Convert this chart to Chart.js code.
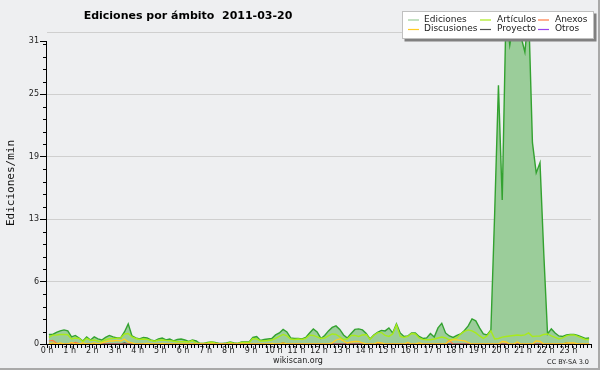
<!DOCTYPE html>
<html><head><meta charset="utf-8">
<script src="https://cdn.jsdelivr.net/npm/chart.js@4.4.1/dist/chart.umd.min.js"></script>
<style>html,body{margin:0;padding:0;background:#eeeff1;} canvas{display:block;}</style>
</head><body>
<canvas id="c" width="600" height="370"></canvas>
<script>
// ---------- text ----------
const chartTitle = 'Ediciones por ámbito  2011-03-20';
const yAxisTitle = 'Ediciones/min';
const siteLabel = 'wikiscan.org';
const licenseLabel = 'CC BY-SA 3.0';

// ---------- categories / ticks ----------
const hourLabels = ['0 h','1 h','2 h','3 h','4 h','5 h','6 h','7 h','8 h','9 h','10 h','11 h',
  '12 h','13 h','14 h','15 h','16 h','17 h','18 h','19 h','20 h','21 h','22 h','23 h'];
const slotMinutes = 10;           // one value per 10-minute slot, 144 slots
const yTickValues = [0, 6.2, 12.4, 18.6, 24.8, 30.1, 31];
const yTickLabels = ['0', '6', '13', '19', '25', '31', ''];
const yMax = 31;

// ---------- series (edits per minute, per 10-min slot) ----------
const ediciones = [
  0.95,0.95,1.15,1.3,1.4,1.3,0.7,0.85,0.6,0.3,
  0.7,0.4,0.7,0.5,0.4,0.65,0.85,0.7,0.6,0.6,
  1.2,2.0,0.8,0.6,0.5,0.65,0.6,0.4,0.3,0.5,
  0.6,0.4,0.5,0.3,0.45,0.5,0.4,0.25,0.4,0.3,
  0.05,0.05,0.15,0.2,0.15,0.05,0.05,0.1,0.2,0.1,
  0.05,0.2,0.2,0.2,0.65,0.75,0.35,0.45,0.5,0.55,
  0.9,1.1,1.45,1.2,0.6,0.55,0.55,0.5,0.65,1.1,
  1.5,1.2,0.55,0.85,1.3,1.65,1.8,1.45,0.9,0.6,
  1.05,1.45,1.5,1.4,1.05,0.5,0.9,1.15,1.35,1.3,
  1.6,1.1,2.0,1.1,0.75,0.8,1.1,1.1,0.75,0.55,
  0.6,1.05,0.7,1.6,2.05,1.1,0.8,0.65,0.85,1.0,
  1.35,1.8,2.5,2.3,1.6,1.0,0.9,1.4,13,25.7,
  14.3,33,29.7,32,33,30.5,29,33,20,17,
  18,9,1.0,1.5,1.1,0.8,0.75,0.9,0.95,0.95,
  0.85,0.7,0.55,0.6
];
const articulos = [
  0.66,0.88,0.9,0.94,0.96,0.92,0.5,0.6,0.55,0.25,
  0.56,0.35,0.4,0.3,0.23,0.42,0.52,0.56,0.56,0.6,
  1.0,1.05,0.7,0.55,0.45,0.5,0.46,0.35,0.28,0.37,
  0.4,0.36,0.33,0.28,0.23,0.23,0.23,0.2,0.35,0.08,
  0.05,0.05,0.1,0.2,0.1,0.03,0.03,0.05,0.15,0.05,
  0.05,0.15,0.15,0.15,0.55,0.5,0.3,0.3,0.35,0.4,
  0.55,0.75,0.95,0.8,0.5,0.45,0.5,0.45,0.56,0.88,
  0.85,0.7,0.55,0.6,0.8,1.0,0.95,0.7,0.45,0.5,
  0.85,0.85,0.75,0.9,0.95,0.45,0.85,1.1,1.15,0.85,
  0.75,1.0,1.9,0.75,0.65,0.75,1.05,1.0,0.6,0.46,
  0.42,0.42,0.5,0.6,0.7,0.6,0.42,0.48,0.6,1.0,
  1.25,1.4,1.3,1.1,0.8,0.56,0.8,1.3,0.5,0.55,
  0.68,0.75,0.8,0.85,0.9,0.85,0.9,1.1,0.75,0.78,
  0.8,0.95,1.0,0.8,0.65,0.5,0.6,0.8,0.9,0.9,
  0.75,0.6,0.45,0.45
];
const anexos = [
  0.3,0.35,0.1,0,0,0,0,0.15,0.05,0,
  0,0,0,0,0,0,0,0,0,0,
  0,0,0,0,0,0,0,0,0,0,
  0,0,0,0,0,0,0,0,0,0,
  0,0,0,0,0,0,0,0,0,0,
  0,0,0,0,0,0,0,0,0,0,
  0,0,0,0,0,0,0,0,0,0,
  0,0,0,0,0,0,0,0,0,0,
  0,0,0,0,0,0,0,0,0,0,
  0,0,0,0,0,0,0,0,0,0,
  0,0,0,0,0,0,0.35,0,0,0,
  0,0,0,0,0,0,0,0,0,0,
  0,0,0,0,0,0,0,0,0,0,
  0,0,0,0,0,0,0,0,0,0,
  0,0,0,0
];
const discusiones = [
  0,0.1,0,0.1,0,0,0.15,0,0,0.1,
  0,0,0.1,0,0.1,0.2,0.3,0.3,0.35,0.3,
  0.5,0.2,0.1,0,0,0,0.05,0,0,0,
  0.05,0,0,0,0,0,0,0,0,0,
  0,0,0,0,0,0,0,0,0,0,
  0,0,0,0,0,0,0,0,0,0.05,
  0,0,0.1,0,0,0,0,0,0,0,
  0,0,0,0,0,0.1,0.4,0.5,0.3,0.1,
  0.2,0.25,0.25,0.1,0,0,0,0.15,0.1,0,
  0,0,0,0,0,0.15,0,0,0.1,0,
  0,0,0,0,0,0,0.3,0.4,0.4,0.35,
  0.3,0.15,0,0,0,0,0,0,0,0,
  0.25,0.2,0,0,0.2,0,0,0,0,0.3,
  0.25,0,0,0,0,0,0,0.1,0.1,0.1,
  0,0,0,0
];
const proyecto = [
  0,0,0,0,0,0,0,0,0,0,
  0,0,0,0,0,0,0,0,0,0,
  0.1,0,0,0,0,0,0,0,0,0,
  0,0,0,0,0,0,0,0,0,0,
  0,0,0,0,0,0,0,0,0,0,
  0,0,0,0,0,0,0,0,0,0,
  0,0,0.1,0,0,0,0,0,0,0,
  0,0,0,0,0,0,0,0,0,0,
  0,0,0,0,0,0,0,0.05,0,0,
  0,0,0,0,0,0,0,0,0,0,
  0,0,0,0,0,0,0,0,0,0,
  0,0,0,0,0,0,0,0,0,0,
  0,0,0,0,0,0,0,0,0,0,
  0,0,0,0,0,0,0,0.1,0,0,
  0,0,0,0
];
const otros = [
  0,0,0,0,0,0,0,0,0,0,
  0,0,0,0,0,0,0,0,0,0,
  0,0,0,0,0,0,0,0,0,0,
  0,0,0,0,0,0,0,0,0,0,
  0,0,0,0,0,0,0,0,0,0,
  0,0,0,0,0,0,0,0,0,0,
  0,0,0,0,0,0,0,0,0,0,
  0,0,0,0,0,0,0,0,0,0,
  0,0,0,0,0,0,0,0,0,0,
  0,0,0,0,0,0,0,0,0,0,
  0,0,0,0,0,0,0,0,0,0,
  0,0,0,0,0,0,0,0,0,0,
  0,0,0,0,0,0,0,0,0,0,
  0,0,0,0,0,0,0,0,0,0,
  0,0,0,0
];

// ---------- build datasets ----------
const toPoints = arr => arr.map((v, i) => ({ x: i * slotMinutes + slotMinutes / 2, y: v }));
const seriesDefs = [
  { label: 'Ediciones',   data: ediciones,   color: '#33a230', fillColor: '#9bcd9a', fill: 'origin', order: 10, width: 1.4 },
  { label: 'Artículos',   data: articulos,   color: '#a8ea1c', order: 5, width: 1.4 },
  { label: 'Anexos',      data: anexos,      color: '#ff7a45', order: 2, width: 1.2 },
  { label: 'Discusiones', data: discusiones, color: '#ffcc22', order: 1, width: 1.3 },
  { label: 'Proyecto',    data: proyecto,    color: '#505050', order: 3, width: 1.2 },
  { label: 'Otros',       data: otros,       color: '#9944ee', order: 4, width: 1.2 }
];
const datasets = seriesDefs.map(s => ({
  label: s.label,
  data: toPoints(s.data),
  borderColor: s.color,
  backgroundColor: s.fillColor || s.color,
  fill: s.fill || false,
  order: s.order,
  borderWidth: s.width,
  pointRadius: 0,
  tension: 0
}));

const FONT = "'DejaVu Sans', sans-serif";

const decorPlugin = {
  id: 'decor',
  beforeDraw(chart) {
    const c = chart.ctx;
    c.save();
    c.fillStyle = '#eeeff1';
    c.fillRect(0, 0, chart.width, chart.height);
    c.fillStyle = '#a9a9a9';
    c.fillRect(0, chart.height - 2, chart.width, 2);
    c.fillRect(chart.width - 2, 0, 2, chart.height);
    c.restore();
  },
  afterDraw(chart) {
    const c = chart.ctx;
    const xs = chart.scales.x, ys = chart.scales.y, ca = chart.chartArea;
    c.save();
    // y axis line (from the top labelled tick down to 0)
    c.strokeStyle = '#000';
    c.lineWidth = 1;
    c.beginPath();
    const axX = Math.round(ca.left) - 0.5;
    c.moveTo(axX, Math.round(ys.getPixelForValue(yTickValues[5])) + 0.5);
    c.lineTo(axX, ca.bottom + 0.5);
    c.stroke();
    // minor ticks
    c.beginPath();
    for (let m = 0; m <= 24 * 60; m += slotMinutes) {
      const px = Math.round(xs.getPixelForValue(m)) + 0.5;
      c.moveTo(px, ca.bottom);
      c.lineTo(px, ca.bottom + 4);
    }
    for (let k = 1; k < 25; k++) {
      if (k % 5 === 0) continue;
      const py = Math.round(ys.getPixelForValue(k * yMax / 25)) + 0.5;
      c.moveTo(ca.left - 4, py);
      c.lineTo(ca.left, py);
    }
    c.stroke();

    // title
    c.fillStyle = '#000';
    c.font = "bold 11px " + FONT;
    c.textAlign = 'center';
    c.textBaseline = 'alphabetic';
    c.fillText(chartTitle, 188, 18.5);

    // y title
    c.save();
    c.translate(14, 183);
    c.rotate(-Math.PI / 2);
    c.font = "11px 'DejaVu Sans Mono', monospace";
    c.textAlign = 'center';
    c.textBaseline = 'alphabetic';
    c.fillStyle = '#111';
    c.fillText(yAxisTitle, 0, 0);
    c.restore();

    // footer
    c.font = "8px " + FONT;
    c.fillStyle = '#222';
    c.textAlign = 'center';
    c.textBaseline = 'middle';
    c.fillText(siteLabel, 298, 361);
    c.font = "6.5px " + FONT;
    c.textAlign = 'right';
    c.fillText(licenseLabel, 589, 362);

    // legend
    const bx = 402, by = 11, bw = 192, bh = 28;
    c.fillStyle = '#808080';
    c.fillRect(bx + 2.5, by + 2.5, bw, bh);
    c.fillStyle = '#ffffff';
    c.fillRect(bx, by, bw, bh);
    c.strokeStyle = '#c0c0c0';
    c.lineWidth = 1;
    c.strokeRect(bx + 0.5, by + 0.5, bw - 1, bh - 1);
    const lineX = [408, 480, 538], textX = [424, 497, 555], rowY = [19.5, 29];
    c.font = "9px " + FONT;
    c.textAlign = 'left';
    c.textBaseline = 'middle';
    chart.data.datasets.forEach((ds, k) => {
      const col = k % 3, row = Math.floor(k / 3);
      c.strokeStyle = ds.fill ? ds.backgroundColor : ds.borderColor;
      c.lineWidth = 1.2;
      c.beginPath();
      c.moveTo(lineX[col], rowY[row] + 0.5);
      c.lineTo(lineX[col] + 11, rowY[row] + 0.5);
      c.stroke();
      c.fillStyle = '#222';
      c.fillText(ds.label, textX[col], rowY[row]);
    });
    c.restore();
  }
};

new Chart(document.getElementById('c'), {
  type: 'line',
  data: { datasets },
  options: {
    responsive: false,
    animation: false,
    events: [],
    devicePixelRatio: 1,
    layout: { padding: { left: 0, right: 9, top: 32, bottom: 0 } },
    plugins: { legend: { display: false }, tooltip: { enabled: false }, title: { display: false } },
    scales: {
      x: {
        type: 'linear',
        min: 0, max: 24 * 60,
        afterBuildTicks: s => { s.ticks = hourLabels.map((_, h) => ({ value: h * 60 })); },
        afterFit: s => { s.height = 26; },
        ticks: {
          autoSkip: false, maxRotation: 0, padding: 2,
          font: { family: FONT, size: 8 }, color: '#222',
          callback: (v) => hourLabels[Math.round(v / 60)] ?? ''
        },
        grid: { display: false, drawTicks: false },
        border: { display: true, color: '#000', width: 1, z: 1 }
      },
      y: {
        type: 'linear',
        min: 0, max: yMax,
        afterBuildTicks: s => { s.ticks = yTickValues.map(v => ({ value: v })); },
        afterFit: s => { s.width = 47; },
        ticks: {
          autoSkip: false, padding: 1,
          font: { family: FONT, size: 8 }, color: '#222',
          callback: (v, i) => yTickLabels[i]
        },
        grid: {
          drawTicks: true, tickLength: 7,
          color: ctx => {
            const v = ctx.tick ? ctx.tick.value : null;
            return (v === 0 || v === 30.1) ? 'rgba(0,0,0,0)' : '#cfcfcf';
          },
          tickColor: ctx => (ctx.tick && ctx.tick.value === 31) ? 'rgba(0,0,0,0)' : '#000'
        },
        border: { display: false }
      }
    }
  },
  plugins: [decorPlugin]
});
</script>
</body></html>
